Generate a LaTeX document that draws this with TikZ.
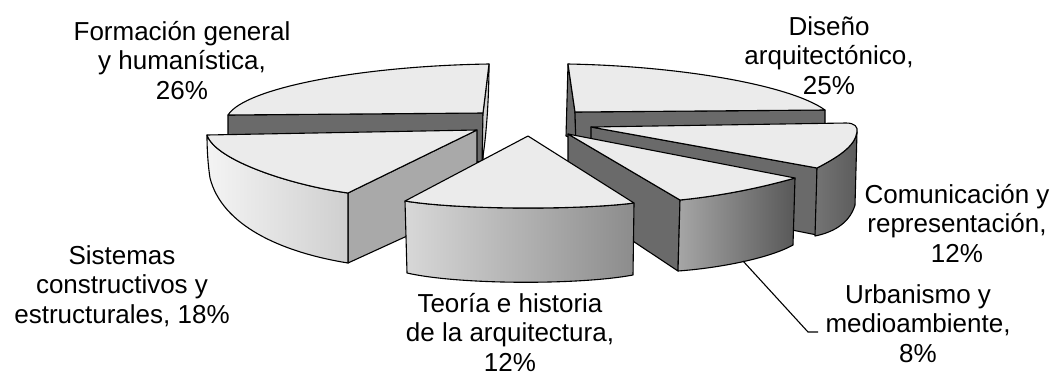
\documentclass[tikz,border=0pt]{standalone}
\usepackage{fontspec}
\setmainfont{Liberation Sans}
\definecolor{topc}{HTML}{EBEBEB}
\definecolor{darkc}{HTML}{6A6A6A}
\definecolor{slivc}{HTML}{D2D2D2}
\definecolor{sisrad}{HTML}{A9A9A9}
\definecolor{sisL}{HTML}{F4F4F4}
\definecolor{sisR}{HTML}{CFCFCF}
\definecolor{teoL}{HTML}{D8D8D8}
\definecolor{teoR}{HTML}{8C8C8C}
\definecolor{urbL}{HTML}{A6A6A6}
\definecolor{urbR}{HTML}{585858}
\definecolor{comL}{HTML}{747474}
\definecolor{comR}{HTML}{5C5C5C}
\tikzset{
  edge/.style={draw=black, line width=1.1pt, line join=round},
  topface/.style={edge, fill=topc},
  darkface/.style={edge, fill=darkc},
  lbl/.style={font=\fontsize{26}{29.5}\selectfont, align=center, anchor=base, inner sep=0pt},
  leader/.style={draw=black, line width=1.1pt},
}
\begin{document}
\begin{tikzpicture}[x=1pt,y=-1pt]
\useasboundingbox[fill=white] (0,0) rectangle (1062,376);
% Diseño arquitectónico (back right)
\draw[darkface] (568,64) -- (575,112) -- (576,140) -- (566,136) -- cycle;
\draw[darkface] (575,112) -- (825,110) -- (825,135) -- (576,150) -- cycle;
\draw[topface] (568,64) .. controls (680,66) and (790,85) .. (825,110) -- (575,112) -- cycle;
% Formación general (back left)
\draw[darkface] (228,115) -- (483,113) -- (483,162) -- (228,145) -- cycle;
\draw[edge, fill=slivc] (489,64) -- (483,113) -- (482,162) .. controls (486,140) and (489,100) .. (489,64) -- cycle;
\draw[topface] (228,115) .. controls (245,88) and (360,66) .. (489,64) -- (483,113) -- cycle;
% Comunicación y representación
\draw[darkface] (591,127) -- (817,168) -- (817,235) -- (591,190) -- cycle;
\draw[edge, left color=comL, right color=comR] (817,168) .. controls (836,158) and (855,147) .. (857,132) -- (855,205) .. controls (850,222) and (835,232) .. (815,236) -- cycle;
\draw[topface] (591,127) -- (846,123) .. controls (855,123) and (858,127) .. (857,132) .. controls (855,147) and (836,158) .. (817,168) -- cycle;
% Sistemas constructivos
\draw[edge, fill=sisrad] (348,193) -- (477,130) -- (477,204) -- (348,263) -- cycle;
\draw[edge, left color=sisL, right color=sisR] (207,135) .. controls (215,160) and (290,185) .. (348,193) -- (348,263) .. controls (280,252) and (222,225) .. (210,178) .. controls (208,165) and (207,150) .. (207,135) -- cycle;
\draw[topface] (477,130) -- (207,135) .. controls (215,160) and (290,185) .. (348,193) -- cycle;
% Urbanismo y medioambiente
\draw[darkface] (568,134) -- (680,200) -- (678,271) -- (568,198) -- cycle;
\draw[edge, left color=urbL, right color=urbR] (680,200) .. controls (720,196) and (760,188) .. (795,178) -- (793,245) .. controls (770,258) and (720,268) .. (678,271) -- cycle;
\draw[topface] (568,134) -- (795,178) .. controls (760,188) and (720,196) .. (680,200) -- cycle;
% Teoría e historia (front)
\draw[edge, left color=teoL, right color=teoR] (405,201) .. controls (460,210) and (580,210) .. (634,203) -- (633,275) .. controls (580,285) and (460,285) .. (407,273) -- cycle;
\draw[topface] (528,136) -- (405,201) .. controls (460,210) and (580,210) .. (634,203) -- cycle;
% Labels (anchor = baseline of last line)
\node[lbl] (lform) at (182,99) {Formación general\\y humanística,\\26\%};
\node[lbl] (ldis) at (829,94) {Diseño\\arquitectónico,\\25\%};
\node[lbl] (lcom) at (957,262) {Comunicación y\\representación,\\12\%};
\node[lbl] (lurb) at (918,362) {Urbanismo y\\medioambiente,\\8\%};
\node[lbl] (lteo) at (510,371) {Teoría e historia\\de la arquitectura,\\12\%};
\node[lbl] (lsis) at (122,323) {Sistemas\\constructivos y\\estructurales, 18\%};
% Leader
\coordinate (uanchor) at (743,261);
\coordinate (ubend) at (808,332);
\coordinate (uend) at (818,332);
\draw[leader] (uanchor) -- (ubend) -- (uend);
\end{tikzpicture}
\end{document}
